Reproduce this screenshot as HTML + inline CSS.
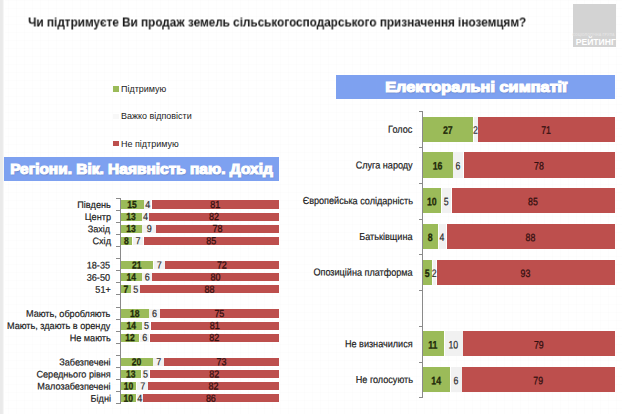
<!DOCTYPE html>
<html><head><meta charset="utf-8"><title>chart</title>
<style>
html,body{margin:0;padding:0;background:#fff}
body{width:622px;height:414px;position:relative;overflow:hidden;background-image:linear-gradient(rgba(0,0,0,.006) 1px,transparent 1px),linear-gradient(90deg,rgba(0,0,0,.006) 1px,transparent 1px);background-size:8px 8px;font-family:"Liberation Sans",sans-serif;color:#1c1c1c}
div{position:absolute;box-sizing:border-box}
.strip{left:0;top:0;width:5px;height:414px;background:linear-gradient(90deg,#eaeaea 0,#eaeaea 2.3px,#fff 4.4px)}
.title{left:28px;top:14px;font-size:12.9px;font-weight:bold;white-space:nowrap;color:#1a1a1a;line-height:16px;will-change:transform;transform:translate(0.2px,0.5px) scaleX(.9115);transform-origin:left center}
.logo{left:572.8px;top:3.9px;width:43px;height:42.7px;background:#d3d3d3}
.logo span{position:absolute;right:0.2px;bottom:-0.4px;font-size:9.6px;font-weight:bold;color:#fff;line-height:10px;transform:scaleX(.895);transform-origin:right center;white-space:nowrap}
.logo i{position:absolute;right:1px;bottom:9.9px;font-style:normal;font-size:3.6px;font-weight:bold;color:#e3e3e3;line-height:4px;white-space:nowrap;letter-spacing:.1px}
.ban{background:#7ea1f0;color:#fff;font-weight:bold;font-size:14.2px;white-space:nowrap;text-align:center}
.ban span{display:inline-block;-webkit-text-stroke:1.15px #fff;text-shadow:0.5px 0.7px 1.2px rgba(40,50,90,.4)}
.leg{font-size:9.4px;white-space:nowrap;line-height:10px;transform:scaleX(.957);transform-origin:left center}
.sq{width:5.5px;height:5.5px}
.ax{background:#8a8a8a}
.t{height:20px;line-height:20px;white-space:nowrap;text-align:center;z-index:2;-webkit-text-stroke:0.2px #1c1c1c}
.t span{display:inline-block}
.t.tr{text-align:right}
.t.tr span{transform-origin:right center}
.t.g{font-weight:bold;-webkit-text-stroke:0.3px #1f2a0a;color:#1f2a0a}
.t.rd{color:#341010;-webkit-text-stroke:0.3px #341010}
.t.h{color:#333}
</style></head><body>
<div class="strip"></div>
<div class="title">Чи підтримуєте Ви продаж земель сільськогосподарського призначення іноземцям?</div>
<div class="logo"><i>СОЦІОЛОГІЧНА ГРУПА</i><span>РЕЙТИНГ</span></div>
<div class="sq" style="left:113px;top:86.2px;background:#9bbb59"></div>
<div class="leg" style="left:121.2px;top:84px">Підтримую</div>
<div class="sq" style="left:113px;top:113.6px;background:#f8f8f8"></div>
<div class="leg" style="left:121.2px;top:111.4px">Важко відповісти</div>
<div class="sq" style="left:113px;top:140.8px;background:#bd4f4d"></div>
<div class="leg" style="left:121.2px;top:138.6px">Не підтримую</div>
<div class="ban" style="left:4px;top:157px;width:275px;height:23.5px;line-height:24.2px"><span style="transform:scaleX(1.09)">Регіони. Вік. Наявність паю. Дохід</span></div>
<div class="ban" style="left:336px;top:75px;width:279px;height:24.3px;line-height:25.2px"><span style="transform:scaleX(1.15)">Електоральні симпатії</span></div>
<div class="ax" style="left:119.6px;top:198.1px;width:1.2px;height:205.9px"></div>
<div class="ax" style="left:116.3px;top:197.60px;width:4px;height:1px"></div>
<div class="ax" style="left:116.3px;top:209.71px;width:4px;height:1px"></div>
<div class="ax" style="left:116.3px;top:221.82px;width:4px;height:1px"></div>
<div class="ax" style="left:116.3px;top:233.93px;width:4px;height:1px"></div>
<div class="ax" style="left:116.3px;top:246.04px;width:4px;height:1px"></div>
<div class="ax" style="left:116.3px;top:258.15px;width:4px;height:1px"></div>
<div class="ax" style="left:116.3px;top:270.26px;width:4px;height:1px"></div>
<div class="ax" style="left:116.3px;top:282.37px;width:4px;height:1px"></div>
<div class="ax" style="left:116.3px;top:294.48px;width:4px;height:1px"></div>
<div class="ax" style="left:116.3px;top:306.59px;width:4px;height:1px"></div>
<div class="ax" style="left:116.3px;top:318.70px;width:4px;height:1px"></div>
<div class="ax" style="left:116.3px;top:330.81px;width:4px;height:1px"></div>
<div class="ax" style="left:116.3px;top:342.92px;width:4px;height:1px"></div>
<div class="ax" style="left:116.3px;top:355.03px;width:4px;height:1px"></div>
<div class="ax" style="left:116.3px;top:367.14px;width:4px;height:1px"></div>
<div class="ax" style="left:116.3px;top:379.25px;width:4px;height:1px"></div>
<div class="ax" style="left:116.3px;top:391.36px;width:4px;height:1px"></div>
<div class="ax" style="left:116.3px;top:403.47px;width:4px;height:1px"></div>
<div class="seg" style="left:120.9px;top:200.45px;width:22.7px;height:8.1px;background:#9bbb59"></div>
<div class="seg" style="left:144.3px;top:200.45px;width:7.0px;height:8.1px;background:#f1f1f1"></div>
<div class="seg" style="left:151.6px;top:200.45px;width:127.4px;height:8.1px;background:#bd4f4d"></div>
<div class="seg" style="left:120.9px;top:212.56px;width:20.7px;height:8.1px;background:#9bbb59"></div>
<div class="seg" style="left:142.3px;top:212.56px;width:6.5px;height:8.1px;background:#f1f1f1"></div>
<div class="seg" style="left:149.1px;top:212.56px;width:129.9px;height:8.1px;background:#bd4f4d"></div>
<div class="seg" style="left:120.9px;top:224.67px;width:20.7px;height:8.1px;background:#9bbb59"></div>
<div class="seg" style="left:142.3px;top:224.67px;width:13.6px;height:8.1px;background:#f1f1f1"></div>
<div class="seg" style="left:156.2px;top:224.67px;width:122.8px;height:8.1px;background:#bd4f4d"></div>
<div class="seg" style="left:120.9px;top:236.78px;width:11.0px;height:8.1px;background:#9bbb59"></div>
<div class="seg" style="left:132.6px;top:236.78px;width:10.7px;height:8.1px;background:#f1f1f1"></div>
<div class="seg" style="left:143.6px;top:236.78px;width:135.4px;height:8.1px;background:#bd4f4d"></div>
<div class="seg" style="left:120.9px;top:261.00px;width:31.9px;height:8.1px;background:#9bbb59"></div>
<div class="seg" style="left:153.5px;top:261.00px;width:11.2px;height:8.1px;background:#f1f1f1"></div>
<div class="seg" style="left:165.0px;top:261.00px;width:114.0px;height:8.1px;background:#bd4f4d"></div>
<div class="seg" style="left:120.9px;top:273.11px;width:20.8px;height:8.1px;background:#9bbb59"></div>
<div class="seg" style="left:142.4px;top:273.11px;width:9.5px;height:8.1px;background:#f1f1f1"></div>
<div class="seg" style="left:152.2px;top:273.11px;width:126.8px;height:8.1px;background:#bd4f4d"></div>
<div class="seg" style="left:120.9px;top:285.22px;width:9.7px;height:8.1px;background:#9bbb59"></div>
<div class="seg" style="left:131.3px;top:285.22px;width:8.7px;height:8.1px;background:#f1f1f1"></div>
<div class="seg" style="left:140.3px;top:285.22px;width:138.7px;height:8.1px;background:#bd4f4d"></div>
<div class="seg" style="left:120.9px;top:309.44px;width:27.8px;height:8.1px;background:#9bbb59"></div>
<div class="seg" style="left:149.4px;top:309.44px;width:10.3px;height:8.1px;background:#f1f1f1"></div>
<div class="seg" style="left:160.0px;top:309.44px;width:119.0px;height:8.1px;background:#bd4f4d"></div>
<div class="seg" style="left:120.9px;top:321.55px;width:20.8px;height:8.1px;background:#9bbb59"></div>
<div class="seg" style="left:142.4px;top:321.55px;width:8.1px;height:8.1px;background:#f1f1f1"></div>
<div class="seg" style="left:150.8px;top:321.55px;width:128.2px;height:8.1px;background:#bd4f4d"></div>
<div class="seg" style="left:120.9px;top:333.66px;width:18.5px;height:8.1px;background:#9bbb59"></div>
<div class="seg" style="left:140.1px;top:333.66px;width:9.4px;height:8.1px;background:#f1f1f1"></div>
<div class="seg" style="left:149.8px;top:333.66px;width:129.2px;height:8.1px;background:#bd4f4d"></div>
<div class="seg" style="left:120.9px;top:357.88px;width:31.7px;height:8.1px;background:#9bbb59"></div>
<div class="seg" style="left:153.3px;top:357.88px;width:10.7px;height:8.1px;background:#f1f1f1"></div>
<div class="seg" style="left:164.3px;top:357.88px;width:114.7px;height:8.1px;background:#bd4f4d"></div>
<div class="seg" style="left:120.9px;top:369.99px;width:19.9px;height:8.1px;background:#9bbb59"></div>
<div class="seg" style="left:141.5px;top:369.99px;width:7.8px;height:8.1px;background:#f1f1f1"></div>
<div class="seg" style="left:149.6px;top:369.99px;width:129.4px;height:8.1px;background:#bd4f4d"></div>
<div class="seg" style="left:120.9px;top:382.10px;width:15.6px;height:8.1px;background:#9bbb59"></div>
<div class="seg" style="left:137.2px;top:382.10px;width:10.8px;height:8.1px;background:#f1f1f1"></div>
<div class="seg" style="left:148.3px;top:382.10px;width:130.7px;height:8.1px;background:#bd4f4d"></div>
<div class="seg" style="left:120.9px;top:394.21px;width:15.0px;height:8.1px;background:#9bbb59"></div>
<div class="seg" style="left:136.6px;top:394.21px;width:6.1px;height:8.1px;background:#f1f1f1"></div>
<div class="seg" style="left:143.0px;top:394.21px;width:136.0px;height:8.1px;background:#bd4f4d"></div>
<div class="t tr lab" style="right:512px;top:195px;font-size:9.6px"><span style="transform:translate(0.50px,0.05px) scaleX(0.95) rotate(.12deg)">Південь</span></div>
<div class="t g" style="left:102px;top:194px;width:60px;font-size:10.2px"><span style="transform:translate(0.45px,0.90px) scaleX(0.836) rotate(.12deg)">15</span></div>
<div class="t h" style="left:117px;top:194px;width:60px;font-size:10.2px"><span style="transform:translate(1.00px,0.90px) scaleX(0.88) rotate(.12deg)">4</span></div>
<div class="t rd" style="left:185px;top:194px;width:60px;font-size:10.2px"><span style="transform:translate(0.50px,0.90px) scaleX(0.88) rotate(.12deg)">81</span></div>
<div class="t tr lab" style="right:512px;top:207px;font-size:9.6px"><span style="transform:translate(0.50px,0.16px) scaleX(0.95) rotate(.12deg)">Центр</span></div>
<div class="t g" style="left:101px;top:207px;width:60px;font-size:10.2px"><span style="transform:translate(0.45px,0.01px) scaleX(0.836) rotate(.12deg)">13</span></div>
<div class="t h" style="left:115px;top:207px;width:60px;font-size:10.2px"><span style="transform:translate(0.75px,0.01px) scaleX(0.88) rotate(.12deg)">4</span></div>
<div class="t rd" style="left:184px;top:207px;width:60px;font-size:10.2px"><span style="transform:translate(0.25px,0.01px) scaleX(0.88) rotate(.12deg)">82</span></div>
<div class="t tr lab" style="right:512px;top:219px;font-size:9.6px"><span style="transform:translate(0.50px,0.27px) scaleX(0.95) rotate(.12deg)">Захід</span></div>
<div class="t g" style="left:101px;top:219px;width:60px;font-size:10.2px"><span style="transform:translate(0.45px,0.12px) scaleX(0.836) rotate(.12deg)">13</span></div>
<div class="t h" style="left:119px;top:219px;width:60px;font-size:10.2px"><span style="transform:translate(0.30px,0.12px) scaleX(0.88) rotate(.12deg)">9</span></div>
<div class="t rd" style="left:187px;top:219px;width:60px;font-size:10.2px"><span style="transform:translate(0.80px,0.12px) scaleX(0.88) rotate(.12deg)">78</span></div>
<div class="t tr lab" style="right:512px;top:231px;font-size:9.6px"><span style="transform:translate(0.50px,0.38px) scaleX(0.95) rotate(.12deg)">Схід</span></div>
<div class="t g" style="left:96px;top:231px;width:60px;font-size:10.2px"><span style="transform:translate(0.60px,0.23px) scaleX(0.836) rotate(.12deg)">8</span></div>
<div class="t h" style="left:108px;top:231px;width:60px;font-size:10.2px"><span style="transform:translate(0.15px,0.23px) scaleX(0.88) rotate(.12deg)">7</span></div>
<div class="t rd" style="left:181px;top:231px;width:60px;font-size:10.2px"><span style="transform:translate(0.50px,0.23px) scaleX(0.88) rotate(.12deg)">85</span></div>
<div class="t tr lab" style="right:512px;top:255px;font-size:9.6px"><span style="transform:translate(0.50px,0.60px) scaleX(0.95) rotate(.12deg)">18-35</span></div>
<div class="t g" style="left:107px;top:255px;width:60px;font-size:10.2px"><span style="transform:translate(0.05px,0.45px) scaleX(0.836) rotate(.12deg)">21</span></div>
<div class="t h" style="left:129px;top:255px;width:60px;font-size:10.2px"><span style="transform:translate(0.30px,0.45px) scaleX(0.88) rotate(.12deg)">7</span></div>
<div class="t rd" style="left:192px;top:255px;width:60px;font-size:10.2px"><span style="transform:translate(0.20px,0.45px) scaleX(0.88) rotate(.12deg)">72</span></div>
<div class="t tr lab" style="right:512px;top:267px;font-size:9.6px"><span style="transform:translate(0.50px,0.71px) scaleX(0.95) rotate(.12deg)">36-50</span></div>
<div class="t g" style="left:101px;top:267px;width:60px;font-size:10.2px"><span style="transform:translate(0.50px,0.56px) scaleX(0.836) rotate(.12deg)">14</span></div>
<div class="t h" style="left:117px;top:267px;width:60px;font-size:10.2px"><span style="transform:translate(0.35px,0.56px) scaleX(0.88) rotate(.12deg)">6</span></div>
<div class="t rd" style="left:185px;top:267px;width:60px;font-size:10.2px"><span style="transform:translate(0.80px,0.56px) scaleX(0.88) rotate(.12deg)">80</span></div>
<div class="t tr lab" style="right:512px;top:279px;font-size:9.6px"><span style="transform:translate(0.50px,0.82px) scaleX(0.95) rotate(.12deg)">51+</span></div>
<div class="t g" style="left:95px;top:279px;width:60px;font-size:10.2px"><span style="transform:translate(0.95px,0.67px) scaleX(0.836) rotate(.12deg)">7</span></div>
<div class="t h" style="left:105px;top:279px;width:60px;font-size:10.2px"><span style="transform:translate(0.85px,0.67px) scaleX(0.88) rotate(.12deg)">5</span></div>
<div class="t rd" style="left:179px;top:279px;width:60px;font-size:10.2px"><span style="transform:translate(0.85px,0.67px) scaleX(0.88) rotate(.12deg)">88</span></div>
<div class="t tr lab" style="right:512px;top:304px;font-size:9.6px"><span style="transform:translate(0.50px,0.04px) scaleX(0.95) rotate(.12deg)">Мають, обробляють</span></div>
<div class="t g" style="left:105px;top:303px;width:60px;font-size:10.2px"><span style="transform:translate(0.00px,0.89px) scaleX(0.836) rotate(.12deg)">18</span></div>
<div class="t h" style="left:124px;top:303px;width:60px;font-size:10.2px"><span style="transform:translate(0.75px,0.89px) scaleX(0.88) rotate(.12deg)">6</span></div>
<div class="t rd" style="left:189px;top:303px;width:60px;font-size:10.2px"><span style="transform:translate(0.70px,0.89px) scaleX(0.88) rotate(.12deg)">75</span></div>
<div class="t tr lab" style="right:512px;top:316px;font-size:9.6px"><span style="transform:translate(0.50px,0.15px) scaleX(0.95) rotate(.12deg)">Мають, здають в оренду</span></div>
<div class="t g" style="left:101px;top:316px;width:60px;font-size:10.2px"><span style="transform:translate(0.50px,0.00px) scaleX(0.836) rotate(.12deg)">14</span></div>
<div class="t h" style="left:116px;top:316px;width:60px;font-size:10.2px"><span style="transform:translate(0.65px,0.00px) scaleX(0.88) rotate(.12deg)">5</span></div>
<div class="t rd" style="left:185px;top:316px;width:60px;font-size:10.2px"><span style="transform:translate(0.10px,0.00px) scaleX(0.88) rotate(.12deg)">81</span></div>
<div class="t tr lab" style="right:512px;top:328px;font-size:9.6px"><span style="transform:translate(0.50px,0.26px) scaleX(0.95) rotate(.12deg)">Не мають</span></div>
<div class="t g" style="left:100px;top:328px;width:60px;font-size:10.2px"><span style="transform:translate(0.35px,0.11px) scaleX(0.836) rotate(.12deg)">12</span></div>
<div class="t h" style="left:115px;top:328px;width:60px;font-size:10.2px"><span style="transform:translate(0.00px,0.11px) scaleX(0.88) rotate(.12deg)">6</span></div>
<div class="t rd" style="left:184px;top:328px;width:60px;font-size:10.2px"><span style="transform:translate(0.60px,0.11px) scaleX(0.88) rotate(.12deg)">82</span></div>
<div class="t tr lab" style="right:512px;top:352px;font-size:9.6px"><span style="transform:translate(0.50px,0.48px) scaleX(0.95) rotate(.12deg)">Забезпечені</span></div>
<div class="t g" style="left:106px;top:352px;width:60px;font-size:10.2px"><span style="transform:translate(0.95px,0.33px) scaleX(0.836) rotate(.12deg)">20</span></div>
<div class="t h" style="left:128px;top:352px;width:60px;font-size:10.2px"><span style="transform:translate(0.85px,0.33px) scaleX(0.88) rotate(.12deg)">7</span></div>
<div class="t rd" style="left:191px;top:352px;width:60px;font-size:10.2px"><span style="transform:translate(0.85px,0.33px) scaleX(0.88) rotate(.12deg)">73</span></div>
<div class="t tr lab" style="right:512px;top:364px;font-size:9.6px"><span style="transform:translate(0.50px,0.59px) scaleX(0.95) rotate(.12deg)">Середнього рівня</span></div>
<div class="t g" style="left:101px;top:364px;width:60px;font-size:10.2px"><span style="transform:translate(0.05px,0.44px) scaleX(0.836) rotate(.12deg)">13</span></div>
<div class="t h" style="left:115px;top:364px;width:60px;font-size:10.2px"><span style="transform:translate(0.60px,0.44px) scaleX(0.88) rotate(.12deg)">5</span></div>
<div class="t rd" style="left:184px;top:364px;width:60px;font-size:10.2px"><span style="transform:translate(0.50px,0.44px) scaleX(0.88) rotate(.12deg)">82</span></div>
<div class="t tr lab" style="right:512px;top:376px;font-size:9.6px"><span style="transform:translate(0.50px,0.70px) scaleX(0.95) rotate(.12deg)">Малозабезпечені</span></div>
<div class="t g" style="left:98px;top:376px;width:60px;font-size:10.2px"><span style="transform:translate(0.90px,0.55px) scaleX(0.836) rotate(.12deg)">10</span></div>
<div class="t h" style="left:112px;top:376px;width:60px;font-size:10.2px"><span style="transform:translate(0.80px,0.55px) scaleX(0.88) rotate(.12deg)">7</span></div>
<div class="t rd" style="left:183px;top:376px;width:60px;font-size:10.2px"><span style="transform:translate(0.85px,0.55px) scaleX(0.88) rotate(.12deg)">82</span></div>
<div class="t tr lab" style="right:512px;top:388px;font-size:9.6px"><span style="transform:translate(0.50px,0.81px) scaleX(0.95) rotate(.12deg)">Бідні</span></div>
<div class="t g" style="left:98px;top:388px;width:60px;font-size:10.2px"><span style="transform:translate(0.60px,0.66px) scaleX(0.836) rotate(.12deg)">10</span></div>
<div class="t h" style="left:109px;top:388px;width:60px;font-size:10.2px"><span style="transform:translate(0.85px,0.66px) scaleX(0.88) rotate(.12deg)">4</span></div>
<div class="t rd" style="left:181px;top:388px;width:60px;font-size:10.2px"><span style="transform:translate(0.20px,0.66px) scaleX(0.88) rotate(.12deg)">86</span></div>
<div class="ax" style="left:421.9px;top:111.8px;width:1.2px;height:286.1px"></div>
<div class="ax" style="left:418.6px;top:111.30px;width:4px;height:1px"></div>
<div class="ax" style="left:418.6px;top:147.06px;width:4px;height:1px"></div>
<div class="ax" style="left:418.6px;top:182.82px;width:4px;height:1px"></div>
<div class="ax" style="left:418.6px;top:218.58px;width:4px;height:1px"></div>
<div class="ax" style="left:418.6px;top:254.34px;width:4px;height:1px"></div>
<div class="ax" style="left:418.6px;top:290.10px;width:4px;height:1px"></div>
<div class="ax" style="left:418.6px;top:325.86px;width:4px;height:1px"></div>
<div class="ax" style="left:418.6px;top:361.62px;width:4px;height:1px"></div>
<div class="ax" style="left:418.6px;top:397.38px;width:4px;height:1px"></div>
<div class="seg" style="left:423.2px;top:116.70px;width:49.9px;height:25.2px;background:#9bbb59"></div>
<div class="seg" style="left:473.8px;top:116.70px;width:3.9px;height:25.2px;background:#f1f1f1"></div>
<div class="seg" style="left:478.0px;top:116.70px;width:137.0px;height:25.2px;background:#bd4f4d"></div>
<div class="seg" style="left:423.2px;top:152.46px;width:29.4px;height:25.2px;background:#9bbb59"></div>
<div class="seg" style="left:453.3px;top:152.46px;width:10.0px;height:25.2px;background:#f1f1f1"></div>
<div class="seg" style="left:463.6px;top:152.46px;width:151.4px;height:25.2px;background:#bd4f4d"></div>
<div class="seg" style="left:423.2px;top:188.22px;width:18.0px;height:25.2px;background:#9bbb59"></div>
<div class="seg" style="left:441.9px;top:188.22px;width:9.5px;height:25.2px;background:#f1f1f1"></div>
<div class="seg" style="left:451.7px;top:188.22px;width:163.3px;height:25.2px;background:#bd4f4d"></div>
<div class="seg" style="left:423.2px;top:223.98px;width:14.7px;height:25.2px;background:#9bbb59"></div>
<div class="seg" style="left:438.6px;top:223.98px;width:7.7px;height:25.2px;background:#f1f1f1"></div>
<div class="seg" style="left:446.6px;top:223.98px;width:168.4px;height:25.2px;background:#bd4f4d"></div>
<div class="seg" style="left:423.2px;top:259.74px;width:8.9px;height:25.2px;background:#9bbb59"></div>
<div class="seg" style="left:432.8px;top:259.74px;width:3.6px;height:25.2px;background:#f1f1f1"></div>
<div class="seg" style="left:436.7px;top:259.74px;width:178.3px;height:25.2px;background:#bd4f4d"></div>
<div class="seg" style="left:423.2px;top:331.26px;width:20.6px;height:25.2px;background:#9bbb59"></div>
<div class="seg" style="left:444.5px;top:331.26px;width:18.5px;height:25.2px;background:#f1f1f1"></div>
<div class="seg" style="left:463.3px;top:331.26px;width:151.7px;height:25.2px;background:#bd4f4d"></div>
<div class="seg" style="left:423.2px;top:367.02px;width:26.7px;height:25.2px;background:#9bbb59"></div>
<div class="seg" style="left:450.6px;top:367.02px;width:11.3px;height:25.2px;background:#f1f1f1"></div>
<div class="seg" style="left:462.2px;top:367.02px;width:152.8px;height:25.2px;background:#bd4f4d"></div>
<div class="t tr lab" style="right:210px;top:119px;font-size:10.1px"><span style="transform:translate(0.40px,0.75px) scaleX(0.9) rotate(.12deg)">Голос</span></div>
<div class="t g" style="left:417px;top:119px;width:60px;font-size:10.8px"><span style="transform:translate(0.75px,0.85px) scaleX(0.81) rotate(.12deg)">27</span></div>
<div class="t h" style="left:445px;top:119px;width:60px;font-size:10.8px"><span style="transform:translate(0.35px,0.85px) scaleX(0.81) rotate(.12deg)">2</span></div>
<div class="t rd" style="left:516px;top:119px;width:60px;font-size:10.8px"><span style="transform:translate(0.10px,0.85px) scaleX(0.81) rotate(.12deg)">71</span></div>
<div class="t tr lab" style="right:210px;top:155px;font-size:10.1px"><span style="transform:translate(0.40px,0.51px) scaleX(0.9) rotate(.12deg)">Слуга народу</span></div>
<div class="t g" style="left:407px;top:155px;width:60px;font-size:10.8px"><span style="transform:translate(0.50px,0.61px) scaleX(0.81) rotate(.12deg)">16</span></div>
<div class="t h" style="left:427px;top:155px;width:60px;font-size:10.8px"><span style="transform:translate(0.90px,0.61px) scaleX(0.81) rotate(.12deg)">6</span></div>
<div class="t rd" style="left:508px;top:155px;width:60px;font-size:10.8px"><span style="transform:translate(0.90px,0.61px) scaleX(0.81) rotate(.12deg)">78</span></div>
<div class="t tr lab" style="right:210px;top:191px;font-size:10.1px"><span style="transform:translate(0.40px,0.27px) scaleX(0.9) rotate(.12deg)">Європейська солідарність</span></div>
<div class="t g" style="left:401px;top:191px;width:60px;font-size:10.8px"><span style="transform:translate(0.80px,0.37px) scaleX(0.81) rotate(.12deg)">10</span></div>
<div class="t h" style="left:416px;top:191px;width:60px;font-size:10.8px"><span style="transform:translate(0.25px,0.37px) scaleX(0.81) rotate(.12deg)">5</span></div>
<div class="t rd" style="left:502px;top:191px;width:60px;font-size:10.8px"><span style="transform:translate(0.95px,0.37px) scaleX(0.81) rotate(.12deg)">85</span></div>
<div class="t tr lab" style="right:210px;top:227px;font-size:10.1px"><span style="transform:translate(0.40px,0.03px) scaleX(0.9) rotate(.12deg)">Батьківщина</span></div>
<div class="t g" style="left:400px;top:227px;width:60px;font-size:10.8px"><span style="transform:translate(0.15px,0.13px) scaleX(0.81) rotate(.12deg)">8</span></div>
<div class="t h" style="left:412px;top:227px;width:60px;font-size:10.8px"><span style="transform:translate(0.05px,0.13px) scaleX(0.81) rotate(.12deg)">4</span></div>
<div class="t rd" style="left:500px;top:227px;width:60px;font-size:10.8px"><span style="transform:translate(0.40px,0.13px) scaleX(0.81) rotate(.12deg)">88</span></div>
<div class="t tr lab" style="right:210px;top:262px;font-size:10.1px"><span style="transform:translate(0.40px,0.79px) scaleX(0.9) rotate(.12deg)">Опозиційна платформа</span></div>
<div class="t g" style="left:397px;top:262px;width:60px;font-size:10.8px"><span style="transform:translate(0.25px,0.89px) scaleX(0.81) rotate(.12deg)">5</span></div>
<div class="t h" style="left:404px;top:262px;width:60px;font-size:10.8px"><span style="transform:translate(0.20px,0.89px) scaleX(0.81) rotate(.12deg)">2</span></div>
<div class="t rd" style="left:495px;top:262px;width:60px;font-size:10.8px"><span style="transform:translate(0.45px,0.89px) scaleX(0.81) rotate(.12deg)">93</span></div>
<div class="t tr lab" style="right:210px;top:334px;font-size:10.1px"><span style="transform:translate(0.40px,0.31px) scaleX(0.9) rotate(.12deg)">Не визначилися</span></div>
<div class="t g" style="left:403px;top:334px;width:60px;font-size:10.8px"><span style="transform:translate(0.10px,0.41px) scaleX(0.81) rotate(.12deg)">11</span></div>
<div class="t h" style="left:423px;top:334px;width:60px;font-size:10.8px"><span style="transform:translate(0.35px,0.41px) scaleX(0.81) rotate(.12deg)">10</span></div>
<div class="t rd" style="left:508px;top:334px;width:60px;font-size:10.8px"><span style="transform:translate(0.75px,0.41px) scaleX(0.81) rotate(.12deg)">79</span></div>
<div class="t tr lab" style="right:210px;top:370px;font-size:10.1px"><span style="transform:translate(0.40px,0.07px) scaleX(0.9) rotate(.12deg)">Не голосують</span></div>
<div class="t g" style="left:406px;top:370px;width:60px;font-size:10.8px"><span style="transform:translate(0.15px,0.17px) scaleX(0.81) rotate(.12deg)">14</span></div>
<div class="t h" style="left:425px;top:370px;width:60px;font-size:10.8px"><span style="transform:translate(0.85px,0.17px) scaleX(0.81) rotate(.12deg)">6</span></div>
<div class="t rd" style="left:508px;top:370px;width:60px;font-size:10.8px"><span style="transform:translate(0.20px,0.17px) scaleX(0.81) rotate(.12deg)">79</span></div>
</body></html>
